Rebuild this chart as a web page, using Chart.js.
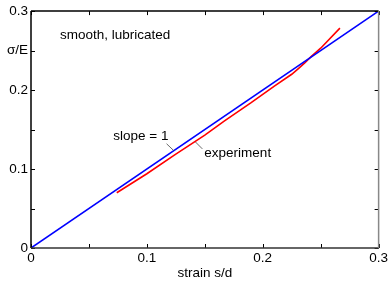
<!DOCTYPE html>
<html>
<head>
<meta charset="utf-8">
<script src="https://cdn.jsdelivr.net/npm/chart.js@4/dist/chart.umd.min.js"></script>
<style>
  html, body { margin: 0; padding: 0; background: #fff; }
  #wrap { width: 390px; height: 281px; }
</style>
</head>
<body>
<div id="wrap"><canvas id="MyChart1" width="390" height="281"></canvas></div>
<script>
// slope = 1 reference line
var slopeX = [0, 0.3];
var slopeY = [0, 0.3];
// experiment curve
var expX = [0.074, 0.100, 0.124, 0.150, 0.167, 0.190, 0.210, 0.225, 0.231, 0.236, 0.2415, 0.250, 0.2666];
var expY = [0.070, 0.094, 0.118, 0.143, 0.161, 0.184, 0.205, 0.220, 0.2275, 0.234, 0.242, 0.253, 0.2785];
var tickStep = 0.05;
var xLabels = { 0: "0", 10: "0.1", 20: "0.2", 30: "0.3" };
var yLabels = { 0: "0", 10: "0.1", 20: "0.2", 25: "σ/E", 30: "0.3" };

var FONT = "Liberation Sans, Arial, Helvetica, sans-serif";
var FSIZE = 13.5;

function pts(xs, ys) {
	var out = [];
	for (var i = 0; i < xs.length; i++) out.push({ x: xs[i], y: ys[i] });
	return out;
}

// box, inward ticks on all four sides, and the text notes
var decor = {
	id: "decor",
	afterDraw: function(chart) {
		var c = chart.ctx, a = chart.chartArea;
		var sx = chart.scales.x, sy = chart.scales.y;
		c.save();
		c.lineWidth = 1;
		// ticks
		c.strokeStyle = "#000";
		sx.ticks.forEach(function(t) {
			var px = Math.round(sx.getPixelForValue(t.value)) + 0.5;
			c.beginPath();
			c.moveTo(px, a.bottom); c.lineTo(px, a.bottom - 4);
			c.moveTo(px, a.top); c.lineTo(px, a.top + 4);
			c.stroke();
		});
		sy.ticks.forEach(function(t) {
			var py = Math.round(sy.getPixelForValue(t.value)) + 0.5;
			c.beginPath();
			c.moveTo(a.left, py); c.lineTo(a.left + 4, py);
			c.moveTo(a.right, py); c.lineTo(a.right - 4, py);
			c.stroke();
		});
		// frame
		c.lineWidth = 1.5;
		c.strokeStyle = "#000";
		c.beginPath();
		c.moveTo(a.left, a.top); c.lineTo(a.right, a.top);
		c.moveTo(a.left, a.top); c.lineTo(a.left, a.bottom);
		c.stroke();
		c.strokeStyle = "#333";
		c.beginPath();
		c.moveTo(a.left, a.bottom); c.lineTo(a.right, a.bottom);
		c.stroke();
		c.strokeStyle = "#888";
		c.beginPath();
		c.moveTo(a.right, a.top); c.lineTo(a.right, a.bottom);
		c.stroke();

		// notes
		c.fillStyle = "#000";
		c.font = FSIZE + "px " + FONT;
		c.textBaseline = "middle";
		c.textAlign = "left";
		c.fillText("smooth, lubricated", sx.getPixelForValue(0.025), sy.getPixelForValue(0.27));
		c.fillText("slope = 1", sx.getPixelForValue(0.071), sy.getPixelForValue(0.142));
		c.fillText("experiment", sx.getPixelForValue(0.1496), sy.getPixelForValue(0.1205));
		c.strokeStyle = "#444";
		c.lineWidth = 0.8;
		c.beginPath();
		c.moveTo(sx.getPixelForValue(0.117), sy.getPixelForValue(0.132));
		c.lineTo(sx.getPixelForValue(0.123), sy.getPixelForValue(0.1236));
		c.moveTo(sx.getPixelForValue(0.1419), sy.getPixelForValue(0.1343));
		c.lineTo(sx.getPixelForValue(0.1479), sy.getPixelForValue(0.1255));
		c.stroke();
		c.restore();
	}
};

var ctx = document.getElementById("MyChart1").getContext("2d");
var chart = new Chart(ctx, {
	type: "line",
	data: {
		datasets: [{
			label: "slope = 1",
			data: pts(slopeX, slopeY),
			borderColor: "#0000ff",
			borderWidth: 1.6,
			pointRadius: 0,
			fill: false
		}, {
			label: "experiment",
			data: pts(expX, expY),
			borderColor: "#ff0000",
			borderWidth: 1.6,
			pointRadius: 0,
			tension: 0,
			fill: false
		}]
	},
	options: {
		responsive: false,
		animation: false,
		layout: { padding: { top: 9, right: 10, left: 0, bottom: 0 } },
		plugins: { legend: { display: false }, tooltip: { enabled: false } },
		scales: {
			x: {
				type: "linear",
				min: 0, max: 0.3,
				afterFit: function(s) { s.height = 33; },
				grid: { display: false, drawTicks: false },
				border: { display: false },
				ticks: {
					stepSize: tickStep,
					padding: 2,
					maxRotation: 0,
					autoSkip: false,
					color: "#000",
					font: { family: FONT, size: FSIZE },
					callback: function(v) { return xLabels[Math.round(v * 100)] || ""; }
				},
				title: {
					display: true,
					text: "strain s/d",
					color: "#000",
					font: { family: FONT, size: FSIZE },
					padding: { top: 0, bottom: 0 }
				}
			},
			y: {
				type: "linear",
				min: 0, max: 0.3,
				afterFit: function(s) { s.width = 31; },
				grid: { display: false, drawTicks: false },
				border: { display: false },
				ticks: {
					stepSize: tickStep,
					padding: 3,
					autoSkip: false,
					color: "#000",
					font: { family: FONT, size: FSIZE },
					callback: function(v) { return yLabels[Math.round(v * 100)] || ""; }
				}
			}
		}
	},
	plugins: [decor]
});
</script>
</body>
</html>
